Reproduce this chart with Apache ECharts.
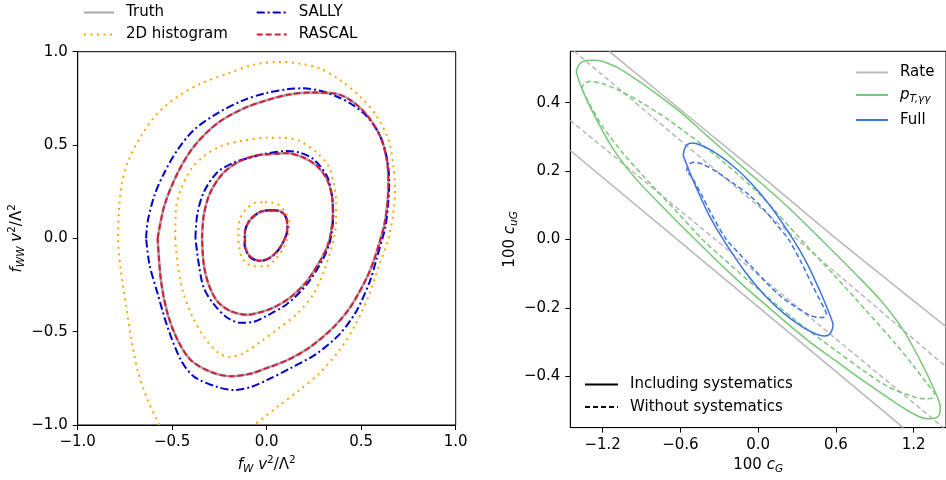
<!DOCTYPE html>
<html>
<head>
<meta charset="utf-8">
<script src="https://cdn.jsdelivr.net/npm/echarts@6/dist/echarts.min.js"></script>
<style>
html,body{margin:0;padding:0;background:#fff}
#chart{width:946px;height:480px}
</style>
</head>
<body>
<div id="chart"></div>
<script>
// ---- left panel: likelihood contours in (f_W, f_WW) ----
const truthInner = [[0.026,0.15],[0.07,0.146],[0.102,0.115],[0.109,0.053],[0.079,-0.035],[0.026,-0.097],[-0.035,-0.12],[-0.088,-0.097],[-0.115,-0.035],[-0.115,0.035],[-0.088,0.097],[-0.035,0.141],[0.026,0.15]];
const truthMid = [[-0.342,0.0],[-0.333,0.124],[-0.298,0.247],[-0.227,0.353],[-0.139,0.415],[-0.051,0.445],[0.0,0.45],[0.106,0.456],[0.194,0.433],[0.265,0.389],[0.318,0.318],[0.345,0.23],[0.35,0.124],[0.338,0.02],[0.322,-0.04],[0.291,-0.106],[0.212,-0.23],[0.123,-0.318],[0.035,-0.371],[-0.03,-0.395],[-0.103,-0.41],[-0.192,-0.389],[-0.262,-0.336],[-0.307,-0.247],[-0.333,-0.141],[-0.342,0.0]];
const truthOuter = [[-0.577,0.0],[-0.541,0.177],[-0.47,0.353],[-0.383,0.495],[-0.259,0.618],[-0.118,0.698],[0.0,0.74],[0.115,0.77],[0.229,0.781],[0.353,0.777],[0.441,0.742],[0.529,0.662],[0.6,0.548],[0.635,0.424],[0.644,0.3],[0.638,0.18],[0.622,0.07],[0.603,0.0],[0.57,-0.11],[0.529,-0.212],[0.441,-0.371],[0.353,-0.477],[0.229,-0.583],[0.106,-0.654],[0.0,-0.695],[-0.082,-0.724],[-0.188,-0.739],[-0.294,-0.716],[-0.4,-0.654],[-0.47,-0.548],[-0.524,-0.406],[-0.559,-0.23],[-0.577,0.0]];

const rascalInner = truthInner;
const rascalMid = truthMid;
const rascalOuter = truthOuter;

const sallyInner = [[0.02,0.152],[0.07,0.145],[0.102,0.112],[0.11,0.05],[0.08,-0.035],[0.028,-0.098],[-0.035,-0.122],[-0.09,-0.1],[-0.117,-0.035],[-0.115,0.035],[-0.09,0.098],[-0.035,0.142],[0.02,0.152]];
const sallyMid = [[-0.377,0.0],[-0.368,0.124],[-0.333,0.247],[-0.262,0.353],[-0.174,0.406],[-0.068,0.438],[0.0,0.455],[0.106,0.468],[0.176,0.459],[0.247,0.424],[0.318,0.336],[0.345,0.23],[0.352,0.124],[0.344,0.03],[0.328,-0.04],[0.291,-0.124],[0.212,-0.247],[0.106,-0.353],[0.0,-0.415],[-0.068,-0.447],[-0.139,-0.452],[-0.21,-0.424],[-0.28,-0.353],[-0.333,-0.265],[-0.359,-0.141],[-0.377,0.0]];
const sallyOuter = [[-0.638,0.0],[-0.63,0.088],[-0.594,0.23],[-0.541,0.353],[-0.47,0.477],[-0.383,0.583],[-0.259,0.671],[-0.118,0.742],[0.0,0.779],[0.106,0.798],[0.194,0.804],[0.282,0.791],[0.37,0.76],[0.441,0.724],[0.529,0.655],[0.6,0.548],[0.637,0.424],[0.648,0.3],[0.642,0.177],[0.628,0.06],[0.612,0.0],[0.58,-0.115],[0.546,-0.23],[0.475,-0.389],[0.387,-0.512],[0.264,-0.618],[0.122,-0.698],[0.0,-0.76],[-0.085,-0.797],[-0.171,-0.813],[-0.259,-0.797],[-0.383,-0.742],[-0.453,-0.654],[-0.524,-0.477],[-0.576,-0.3],[-0.62,-0.141],[-0.638,0.0]];

const histInner = [[-0.009,0.194],[0.053,0.186],[0.097,0.141],[0.12,0.088],[0.114,0.018],[0.088,-0.053],[0.044,-0.115],[-0.009,-0.15],[-0.071,-0.15],[-0.124,-0.115],[-0.145,-0.053],[-0.15,0.026],[-0.141,0.106],[-0.106,0.159],[-0.062,0.19],[-0.009,0.194]];
const histMid = [[-0.484,0.0],[-0.48,0.16],[-0.453,0.265],[-0.4,0.371],[-0.33,0.442],[-0.241,0.495],[-0.136,0.521],[0.0,0.539],[0.088,0.539],[0.176,0.521],[0.265,0.459],[0.326,0.389],[0.353,0.3],[0.367,0.194],[0.367,0.088],[0.355,0.0],[0.309,-0.159],[0.247,-0.3],[0.159,-0.406],[0.071,-0.477],[-0.02,-0.545],[-0.118,-0.612],[-0.198,-0.636],[-0.259,-0.61],[-0.33,-0.53],[-0.391,-0.424],[-0.444,-0.283],[-0.471,-0.141],[-0.484,0.0]];
const histOuter = [[-0.568,-1.0],[-0.63,-0.866],[-0.683,-0.707],[-0.718,-0.53],[-0.745,-0.353],[-0.771,-0.177],[-0.786,0.0],[-0.782,0.15],[-0.765,0.3],[-0.736,0.406],[-0.665,0.548],[-0.577,0.671],[-0.47,0.76],[-0.347,0.83],[-0.206,0.883],[-0.07,0.93],[0.07,0.945],[0.176,0.936],[0.282,0.91],[0.388,0.848],[0.494,0.76],[0.582,0.654],[0.644,0.53],[0.67,0.389],[0.679,0.265],[0.67,0.141],[0.645,0.0],[0.596,-0.141],[0.543,-0.3],[0.472,-0.459],[0.384,-0.6],[0.278,-0.724],[0.173,-0.813],[0.067,-0.895],[-0.066,-1.0]];

// ---- right panel: (c_G, c_uG) ----
const rateUpper = [[-1.15,0.55],[0.0,0.193],[0.61,0.0],[1.45,-0.255]];
const rateLower = [[-1.45,0.26],[0.0,-0.197],[1.12,-0.55]];
const rateUpperNoSys = [[-1.42,0.55],[0.0,0.098],[0.30,0.0],[1.45,-0.372]];
const rateLowerNoSys = [[-1.45,0.348],[0.0,-0.103],[1.43,-0.55]];

const ptSys = [[-1.405,0.49],[-1.38,0.512],[-1.33,0.523],[-1.25,0.524],[-1.1,0.505],[-0.95,0.47],[-0.8,0.43],[-0.6,0.372],[-0.4,0.305],[-0.1,0.205],[0.2,0.105],[0.5,-0.005],[0.75,-0.1],[0.95,-0.18],[1.12,-0.265],[1.26,-0.36],[1.36,-0.44],[1.405,-0.49],[1.40,-0.51],[1.37,-0.522],[1.30,-0.524],[1.2,-0.51],[1.05,-0.475],[0.8,-0.41],[0.6,-0.355],[0.4,-0.3],[0.1,-0.205],[-0.2,-0.105],[-0.5,0.005],[-0.75,0.1],[-0.95,0.18],[-1.12,0.265],[-1.26,0.36],[-1.36,0.44],[-1.405,0.49]];
const ptNoSys = [[-1.36,0.44],[-1.345,0.455],[-1.30,0.462],[-1.2,0.455],[-1.07,0.435],[-0.9,0.4],[-0.69,0.349],[-0.36,0.255],[0.0,0.136],[0.33,0.0],[0.6,-0.11],[0.85,-0.215],[1.05,-0.3],[1.2,-0.37],[1.3,-0.42],[1.36,-0.452],[1.345,-0.463],[1.3,-0.466],[1.2,-0.46],[1.0,-0.43],[0.8,-0.38],[0.6,-0.325],[0.3,-0.24],[0.0,-0.145],[-0.25,-0.062],[-0.43,0.0],[-0.65,0.09],[-0.85,0.17],[-1.05,0.255],[-1.2,0.33],[-1.3,0.395],[-1.36,0.44]];

const fullSys = [[-0.578,0.245],[-0.57,0.263],[-0.548,0.277],[-0.51,0.282],[-0.45,0.277],[-0.35,0.258],[-0.2,0.217],[-0.05,0.163],[0.1,0.095],[0.27,0.0],[0.38,-0.072],[0.47,-0.145],[0.53,-0.198],[0.565,-0.232],[0.578,-0.25],[0.57,-0.265],[0.548,-0.278],[0.51,-0.282],[0.45,-0.277],[0.35,-0.258],[0.2,-0.217],[0.05,-0.163],[-0.1,-0.095],[-0.27,0.0],[-0.38,0.072],[-0.47,0.145],[-0.53,0.198],[-0.565,0.232],[-0.578,0.245]];
const fullNoSys = [[-0.552,0.2],[-0.542,0.215],[-0.52,0.223],[-0.49,0.226],[-0.43,0.22],[-0.33,0.2],[-0.2,0.166],[-0.07,0.13],[0.05,0.085],[0.15,0.04],[0.235,0.0],[0.33,-0.065],[0.42,-0.135],[0.48,-0.18],[0.515,-0.205],[0.525,-0.215],[0.52,-0.223],[0.5,-0.228],[0.47,-0.228],[0.4,-0.222],[0.3,-0.2],[0.18,-0.168],[0.06,-0.125],[-0.05,-0.08],[-0.15,-0.04],[-0.245,0.0],[-0.34,0.06],[-0.43,0.125],[-0.5,0.175],[-0.54,0.195],[-0.552,0.2]];

const rightXTicks = [-1.2, -0.6, 0.0, 0.6, 1.2];
const rightYTicks = [-0.4, -0.2, 0.0, 0.2, 0.4];

const FONT = 'DejaVu Sans';
const FS = 15;
const fmt = v => (Math.abs(v) < 1e-9 ? '0.0' : v.toFixed(1)).replace('-', '\u2212');

const rich = {
    n:   {fontFamily: FONT, fontSize: FS, color: '#000', lineHeight: 20},
    i:   {fontFamily: FONT, fontSize: FS, fontStyle: 'italic', color: '#000', lineHeight: 20},
    sub: {fontFamily: FONT, fontSize: 10.5, fontStyle: 'italic', color: '#000', lineHeight: 12, verticalAlign: 'bottom'},
    sup: {fontFamily: FONT, fontSize: 10.5, color: '#000', lineHeight: 12, verticalAlign: 'top'}
};

const C = {
    truth: '#a8a8a8', rascal: '#d81b3c', sally: '#0000cc', hist: '#ffa500',
    rate: '#b8b8b8', pt: '#78c878', full: '#3c73e0'
};

function line(name, data, color, width, dash, xi) {
    return {
        name: name, type: 'line', data: data,
        xAxisIndex: xi, yAxisIndex: xi,
        showSymbol: false, symbol: 'none', smooth: 0.3,
        clip: true, silent: true,
        lineStyle: {color: color, width: width, type: dash},
        itemStyle: {color: color}
    };
}

const dashDot = [8, 3, 2, 3];
const dotted = [2, 4.5];
const dashed = [6, 3];
const rDash = [5, 3];

function valueAxis(gi, min, max, extra) {
    return Object.assign({
        type: 'value', gridIndex: gi, min: min, max: max,
        splitLine: {show: false},
        axisLine: {show: true, onZero: false, lineStyle: {color: '#000', width: 1}},
        axisTick: {show: true, length: 5, lineStyle: {color: '#000', width: 1}},
        axisLabel: {fontFamily: FONT, fontSize: FS, color: '#000', margin: 10, formatter: fmt,
                    showMinLabel: true, showMaxLabel: true},
        nameLocation: 'middle',
        nameTextStyle: {rich: rich}
    }, extra);
}

function legend(names, left, top, gap, w, extra) {
    return Object.assign({
        data: names, orient: 'vertical', left: left, top: top, padding: 0,
        itemWidth: w, itemHeight: 14, itemGap: gap, selectedMode: false,
        itemStyle: {opacity: 0},
        textStyle: {fontFamily: FONT, fontSize: FS, color: '#000', padding: [0, 0, 0, 7], rich: rich}
    }, extra);
}

const option = {
    animation: false,
    backgroundColor: '#fff',
    grid: [
        {left: 77.7, top: 51.7, width: 378, height: 377.3, show: true, borderColor: '#000', borderWidth: 1, containLabel: false},
        {left: 570.3, top: 51.3, width: 378, height: 377.7, show: true, borderColor: '#000', borderWidth: 1, containLabel: false}
    ],
    xAxis: [
        valueAxis(0, -1, 1, {interval: 0.5, name: '{i|f}{sub|W}{n| }{i|v}{sup|2}{n|/Λ}{sup|2}', nameGap: 30}),
        valueAxis(1, -1.45, 1.45, {name: '{n|100 }{i|c}{sub|G}', nameGap: 25})
    ],
    yAxis: [
        valueAxis(0, -1, 1, {interval: 0.5, name: '{i|f}{sub|WW}{n| }{i|v}{sup|2}{n|/Λ}{sup|2}', nameGap: 51}),
        valueAxis(1, -0.55, 0.55, {name: '{n|100 }{i|c}{sub|uG}', nameGap: 47})
    ],
    legend: [
        legend(['Truth', '2D histogram'], 83, 5, 7, 30),
        legend(['SALLY', 'RASCAL'], 255.7, 5, 7, 30),
        legend(['Rate', 'pT', 'Full'], 855, 65, 7.5, 32,
               {formatter: n => n === 'pT' ? '{i|p}{sub|T,γγ}' : n}),
        legend(['Including systematics', 'Without systematics'], 584, 377, 7.5, 33)
    ],
    series: [
        line('Truth', truthOuter, C.truth, 2.6, 'solid', 0),
        line('Truth', truthMid, C.truth, 2.6, 'solid', 0),
        line('Truth', truthInner, C.truth, 2.6, 'solid', 0),
        line('2D histogram', histOuter, C.hist, 2, dotted, 0),
        line('2D histogram', histMid, C.hist, 2, dotted, 0),
        line('2D histogram', histInner, C.hist, 2, dotted, 0),
        line('SALLY', sallyOuter, C.sally, 2, dashDot, 0),
        line('SALLY', sallyMid, C.sally, 2, dashDot, 0),
        line('SALLY', sallyInner, C.sally, 2, dashDot, 0),
        line('RASCAL', rascalOuter, C.rascal, 2, dashed, 0),
        line('RASCAL', rascalMid, C.rascal, 2, dashed, 0),
        line('RASCAL', rascalInner, C.rascal, 2, dashed, 0),

        line('Rate', rateUpper, C.rate, 1.5, 'solid', 1),
        line('Rate', rateLower, C.rate, 1.5, 'solid', 1),
        line('Rate', rateUpperNoSys, C.rate, 1.5, rDash, 1),
        line('Rate', rateLowerNoSys, C.rate, 1.5, rDash, 1),
        line('pT', ptSys, C.pt, 1.5, 'solid', 1),
        line('pT', ptNoSys, C.pt, 1.5, rDash, 1),
        line('Full', fullSys, C.full, 1.5, 'solid', 1),
        line('Full', fullNoSys, C.full, 1.5, rDash, 1),
        line('Including systematics', [], '#000', 1.5, 'solid', 1),
        line('Without systematics', [], '#000', 1.5, rDash, 1)
    ]
};
option.xAxis[1].axisLabel.customValues = rightXTicks;
option.xAxis[1].axisTick.customValues = rightXTicks;
option.yAxis[1].axisLabel.customValues = rightYTicks;
option.yAxis[1].axisTick.customValues = rightYTicks;

const chart = echarts.init(document.getElementById('chart'));
chart.setOption(option);
</script>
</body>
</html>
